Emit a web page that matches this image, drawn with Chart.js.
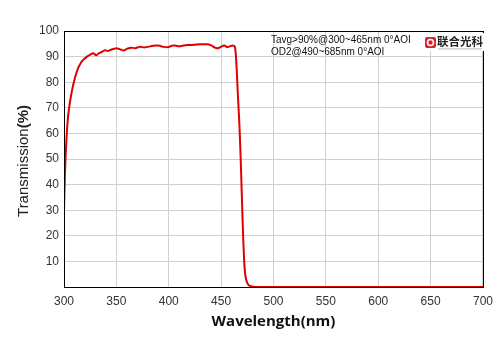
<!DOCTYPE html>
<html>
<head>
<meta charset="utf-8">
<script src="https://cdn.jsdelivr.net/npm/chart.js@4"></script>
<style>
html,body{margin:0;padding:0;background:#fff;}
#wrap{position:relative;width:500px;height:353px;}
</style>
</head>
<body>
<div id="wrap"><canvas id="c" width="500" height="353"></canvas></div>
<script>
// Data
const wavelengths = [300,301,302,303,304,306,308,310,313,316,319,322,325,328,330,331,333,336,339,342,345,348,351,354,357,360,364,368,372,377,381,385,390,395,399,403,406,410,414,418,424,430,437,441,444,447,450,453,456,458,461,463,464,465,466,467.5,469,470.5,472,473,474,475.5,477,480,485,500,700];
const transmission = [30,45,55,62,67,73,77.5,81,85,87.5,89,90,90.8,91.3,90.7,90.5,91.2,91.8,92.5,92.2,92.7,93.1,93.2,92.8,92.4,93.0,93.5,93.3,93.8,93.6,93.9,94.2,94.3,93.8,93.7,94.2,94.3,94.0,94.3,94.5,94.6,94.8,94.8,94.3,93.5,93.3,93.9,94.3,93.7,94.0,94.3,93.9,91,84,75,63,46,26,10,5,2.7,1.2,0.5,0.1,0,0,0];
const xTicks = [300,350,400,450,500,550,600,650,700];
const yTicks = [10,20,30,40,50,60,70,80,90,100];
const annotationLines = ["Tavg>90%@300~465nm 0°AOI","OD2@490~685nm 0°AOI"];
const logoText = "联合光科";
const xTitle = "Wavelength(nm)";
const yTitleMain = "Transmission";
const yTitleUnit = "(%)";

const points = wavelengths.map((w,i)=>({x:w,y:transmission[i]}));

const overlay = {
  id:'overlay',
  afterDraw(chart){
    const ctx = chart.ctx, a = chart.chartArea;
    ctx.save();
    // frame
    ctx.strokeStyle = '#000'; ctx.lineWidth = 1;
    ctx.strokeRect(Math.round(a.left)+0.5, Math.round(a.top)+0.5, Math.round(a.right-a.left), Math.round(a.bottom-a.top));
    // annotation
    ctx.fillStyle = '#111';
    ctx.font = '10px Arial, "Liberation Sans", sans-serif';
    ctx.textBaseline = 'middle'; ctx.textAlign = 'left';
    ctx.fillText(annotationLines[0], 271, 40);
    ctx.fillText(annotationLines[1], 271, 52);
    // logo
    ctx.fillStyle = '#fff';
    ctx.fillRect(423, 33, 62, 18);
    ctx.fillStyle = '#d8222a';
    ctx.beginPath();
    if (ctx.roundRect) ctx.roundRect(425, 37, 11, 11, 2); else ctx.rect(425,37,11,11);
    ctx.fill();
    ctx.strokeStyle = '#fff'; ctx.lineWidth = 1.6;
    ctx.beginPath(); ctx.arc(430.5, 42.5, 3, 0, Math.PI*2); ctx.stroke();
    ctx.fillStyle = '#222';
    ctx.font = 'bold 11.5px "Noto Sans CJK SC", sans-serif';
    ctx.textAlign = 'left';
    ctx.fillText(logoText, 437, 42);
    ctx.fillStyle = '#aaa';
    ctx.fillRect(438, 48.5, 44, 0.8);
    // y title
    ctx.translate(24, 161);
    ctx.rotate(-Math.PI/2);
    ctx.fillStyle = '#222';
    ctx.textBaseline = 'middle';
    ctx.font = '15px Arial, "Liberation Sans", sans-serif';
    const w1 = ctx.measureText(yTitleMain).width;
    ctx.font = 'bold 15px Arial, "Liberation Sans", sans-serif';
    const w2 = ctx.measureText(yTitleUnit).width;
    const start = -(w1+w2)/2;
    ctx.textAlign = 'left';
    ctx.font = '15px Arial, "Liberation Sans", sans-serif';
    ctx.fillText(yTitleMain, start, 0);
    ctx.font = 'bold 15px Arial, "Liberation Sans", sans-serif';
    ctx.fillText(yTitleUnit, start + w1, 0);
    ctx.restore();
  }
};

new Chart(document.getElementById('c'), {
  type:'line',
  data:{datasets:[{data:points, borderColor:'#e00000', borderWidth:2, pointRadius:0, tension:0.3, fill:false}]},
  options:{
    responsive:false, animation:false,
    layout:{padding:{left:0, top:31, right:10, bottom:0}},
    plugins:{legend:{display:false}, tooltip:{enabled:false}},
    scales:{
      x:{type:'linear', min:300, max:700,
        afterBuildTicks(s){ s.ticks = xTicks.map(v=>({value:v})); },
        grid:{color:'#cfcfcf', drawTicks:false},
        border:{display:false},
        ticks:{color:'#333', font:{family:'Arial, "Liberation Sans", sans-serif', size:12}, padding:7, maxRotation:0},
        title:{display:true, text:xTitle, color:'#111', font:{family:'"Open Sans", Arial, sans-serif', size:15, weight:'bold'}, padding:{top:4, bottom:22}},
        afterFit(s){ s.height = 66; }
      },
      y:{min:0, max:100,
        afterBuildTicks(s){ s.ticks = yTicks.map(v=>({value:v})); },
        grid:{color:'#cfcfcf', drawTicks:false},
        border:{display:false},
        ticks:{color:'#333', font:{family:'Arial, "Liberation Sans", sans-serif', size:12}, padding:5},
        afterFit(s){ s.width = 64; }
      }
    }
  },
  plugins:[overlay]
});
</script>
</body>
</html>
